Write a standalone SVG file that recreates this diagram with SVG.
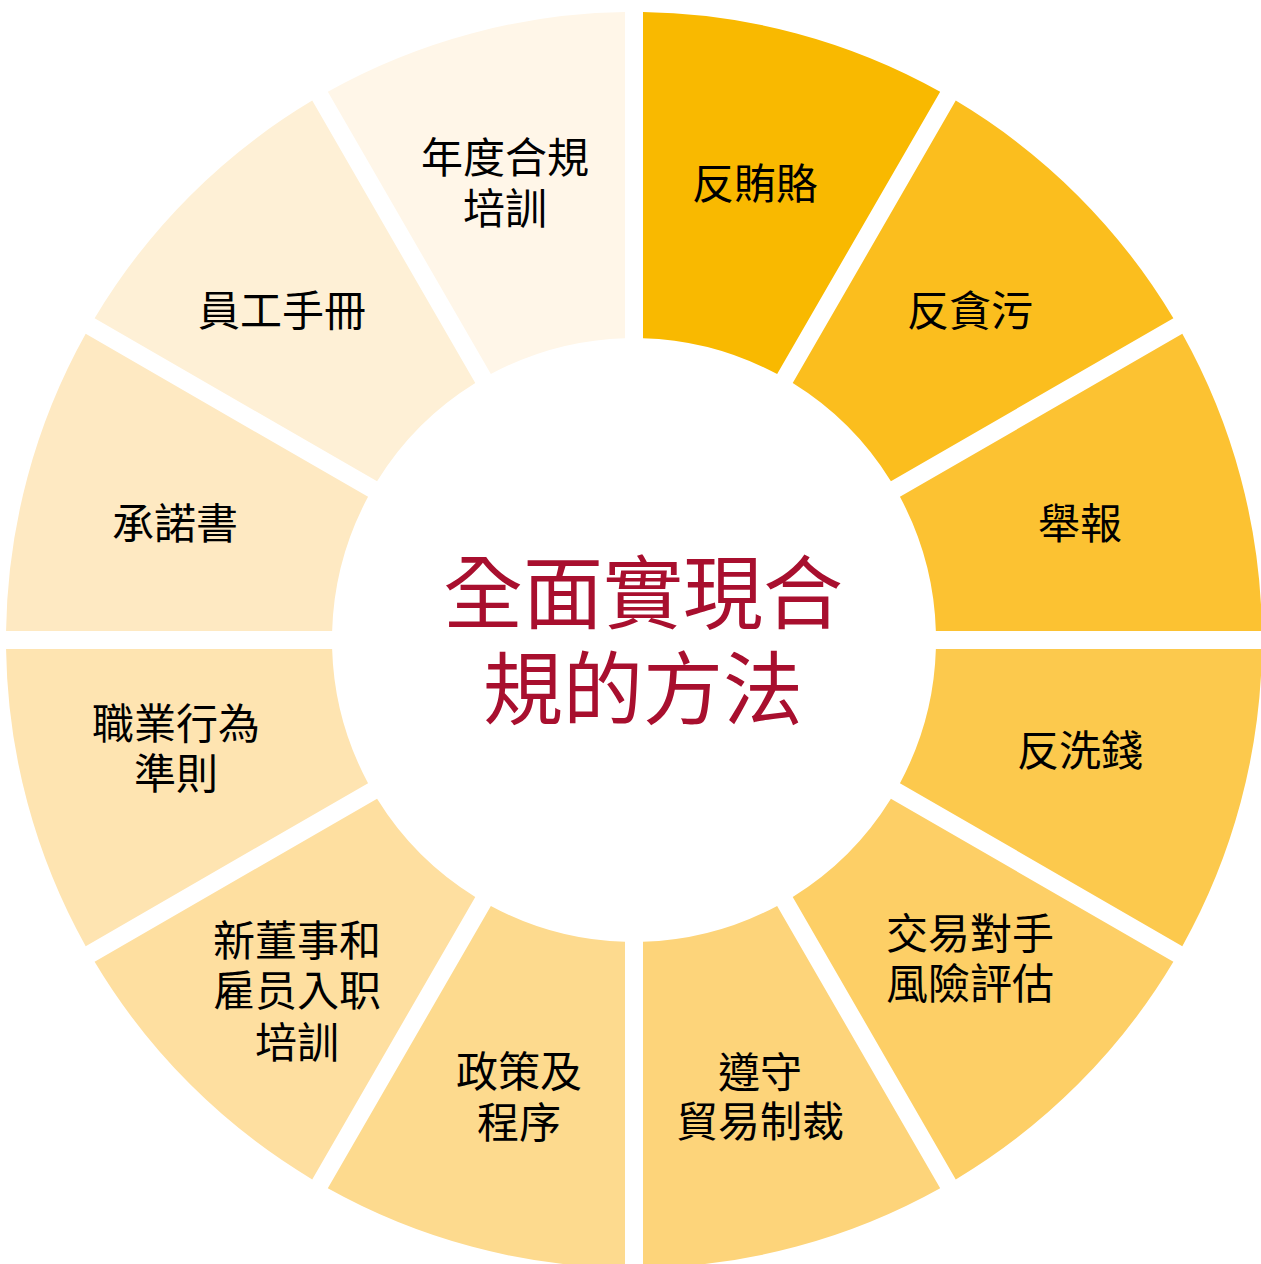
<svg xmlns="http://www.w3.org/2000/svg" width="1261" height="1264" viewBox="0 0 1261 1264">
<style>
.lbl{font-family:"Noto Sans CJK TC","Noto Sans CJK SC",sans-serif;font-size:42px;fill:#000;text-anchor:middle}
.ttl{font-family:"Noto Sans CJK TC","Noto Sans CJK SC",sans-serif;font-size:80px;fill:#A80F2E;text-anchor:middle}
</style>
<rect width="1261" height="1264" fill="#fff"/>
<g id="seg1"><path fill="#F9B900" d="M643,12.06 A628,628 0 0 1 940.18,91.69 L777.14,374.07 A302,302 0 0 0 643,338.13 Z"/><text class="lbl" x="755" y="199">反賄賂</text></g>
<g id="seg2"><path fill="#FBBE1E" d="M955.76,100.62 A628,628 0 0 1 1173.38,318.24 L890.92,481.27 A302,302 0 0 0 792.73,383.08 Z"/><text class="lbl" x="970" y="326">反貪污</text></g>
<g id="seg3"><path fill="#FCC232" d="M1182.31,333.82 A628,628 0 0 1 1261.94,631 L935.87,631 A302,302 0 0 0 899.93,496.86 Z"/><text class="lbl" x="1080" y="539">舉報</text></g>
<g id="seg4"><path fill="#FCC94D" d="M1261.94,649 A628,628 0 0 1 1182.31,946.18 L899.93,783.14 A302,302 0 0 0 935.87,649 Z"/><text class="lbl" x="1080" y="766">反洗錢</text></g>
<g id="seg5"><path fill="#FDCF66" d="M1173.38,961.76 A628,628 0 0 1 955.76,1179.38 L792.73,896.92 A302,302 0 0 0 890.92,798.73 Z"/><text class="lbl" x="970" y="949">交易對手</text><text class="lbl" x="970" y="999">風險評估</text></g>
<g id="seg6"><path fill="#FDD47A" d="M940.18,1188.31 A628,628 0 0 1 643,1267.94 L643,941.87 A302,302 0 0 0 777.14,905.93 Z"/><text class="lbl" x="760" y="1088">遵守</text><text class="lbl" x="760" y="1137">貿易制裁</text></g>
<g id="seg7"><path fill="#FDDA8E" d="M625,1267.94 A628,628 0 0 1 327.82,1188.31 L490.86,905.93 A302,302 0 0 0 625,941.87 Z"/><text class="lbl" x="519" y="1087">政策及</text><text class="lbl" x="519" y="1138">程序</text></g>
<g id="seg8"><path fill="#FEDFA0" d="M312.24,1179.38 A628,628 0 0 1 94.62,961.76 L377.08,798.73 A302,302 0 0 0 475.27,896.92 Z"/><text class="lbl" x="297" y="956">新董事和</text><text class="lbl" x="297" y="1006">雇员入职</text><text class="lbl" x="297" y="1058">培訓</text></g>
<g id="seg9"><path fill="#FEE4B1" d="M85.69,946.18 A628,628 0 0 1 6.06,649 L332.13,649 A302,302 0 0 0 368.07,783.14 Z"/><text class="lbl" x="176" y="739">職業行為</text><text class="lbl" x="176" y="789">準則</text></g>
<g id="seg10"><path fill="#FEE9C2" d="M6.06,631 A628,628 0 0 1 85.69,333.82 L368.07,496.86 A302,302 0 0 0 332.13,631 Z"/><text class="lbl" x="175" y="539">承諾書</text></g>
<g id="seg11"><path fill="#FEF0D6" d="M94.62,318.24 A628,628 0 0 1 312.24,100.62 L475.27,383.08 A302,302 0 0 0 377.08,481.27 Z"/><text class="lbl" x="282" y="326">員工手冊</text></g>
<g id="seg12"><path fill="#FFF6E8" d="M327.82,91.69 A628,628 0 0 1 625,12.06 L625,338.13 A302,302 0 0 0 490.86,374.07 Z"/><text class="lbl" x="505" y="173">年度合規</text><text class="lbl" x="505" y="224">培訓</text></g>
<g id="center"><text class="ttl" x="643" y="622">全面實現合</text><text class="ttl" x="643" y="718">規的方法</text></g>
<g id="connectors"></g>
</svg>
